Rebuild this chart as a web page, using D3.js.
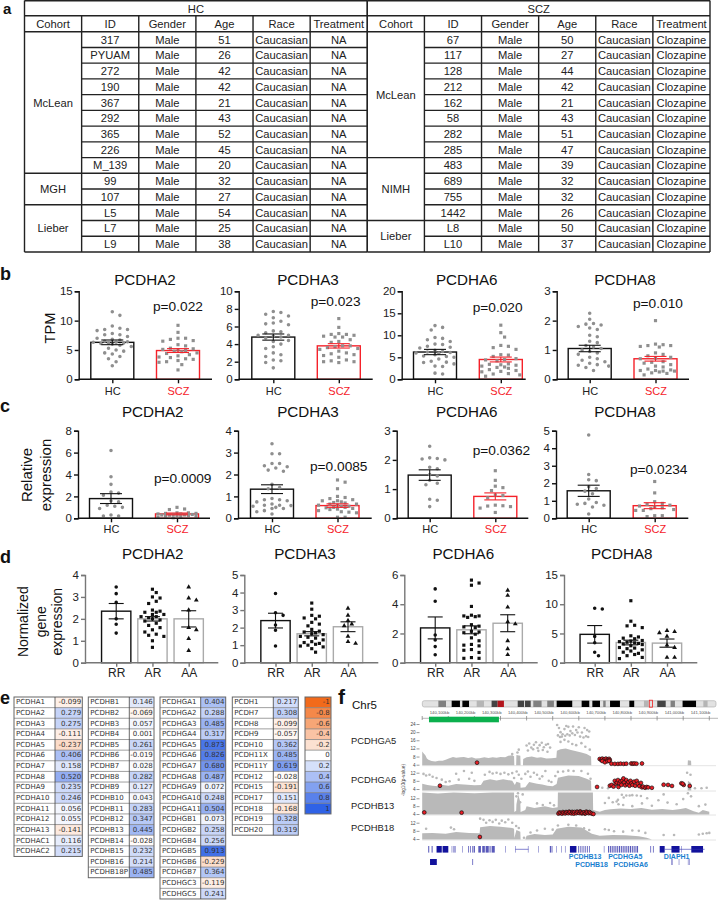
<!DOCTYPE html>
<meta charset="utf-8">
<style>
body { margin: 0; background: #fff; }
svg { display: block; font-family: "Liberation Sans", Arial, sans-serif; }
</style>
<script src="https://d3js.org/d3.v7.min.js"></script>
<body>
<script>
// ---- panel a: cohort tables
var tableCols = ["Cohort", "ID", "Gender", "Age", "Race", "Treatment"];
var hcIds = ["317","PYUAM","272","190","367","292","365","226","M_139","99","107","L5","L7","L9"];
var hcAges = [51,26,42,42,21,43,52,45,20,32,27,54,25,38];
var hcCohorts = [["McLean",9],["MGH",2],["Lieber",3]];
var sczIds = ["67","117","128","212","162","58","282","285","483","689","755","1442","L8","L10"];
var sczAges = [50,27,44,42,21,43,51,47,39,32,32,26,50,37];
var sczCohorts = [["McLean",8],["NIMH",4],["Lieber",2]];

// ---- panel b: TPM
var genes = ["PCDHA2","PCDHA3","PCDHA6","PCDHA8"];
var bTicks = [[0,5,10,15],[0,2,4,6,8,10],[0,5,10,15,20],[0,1,2,3]];
var bPvals = ["p=0.022","p=0.023","p=0.020","p=0.010"];
var bMeans = [[6.3,4.9],[4.8,3.8],[6.2,4.5],[1.05,0.7]];
var bSems = [[0.4,0.33],[0.35,0.25],[0.6,0.55],[0.11,0.08]];
var bHc = [
  [11.5,10.9,9.1,8.7,8.5,8.5,8.3,7.8,7.6,7.6,7.3,7.0,6.8,6.7,6.5,6.4,6.3,6.3,6.2,6.2,6.1,6.0,5.8,5.6,5.3,5.0,4.8,4.5,4.3,3.9,3.5,3.0,2.3],
  [7.7,7.6,7.4,7.2,7.0,6.6,6.4,6.3,6.2,5.5,5.4,5.3,5.0,5.0,4.9,4.8,4.7,4.4,4.3,4.0,3.7,3.5,3.0,2.8,2.6,2.2,2.1,1.9,1.3],
  [12.2,11.8,11.2,9.5,9.3,9.0,8.6,8.0,7.9,7.5,7.3,7.1,6.6,6.3,6.2,6.1,6.0,5.9,5.6,5.3,5.2,5.0,4.6,4.1,3.9,3.8,3.5,3.0,2.9,1.4,1.2],
  [2.25,2.05,1.9,1.88,1.85,1.8,1.75,1.7,1.5,1.45,1.3,1.25,1.15,1.1,1.05,1.0,0.95,0.9,0.85,0.75,0.7,0.65,0.6,0.55,0.5,0.48,0.45,0.4,0.3]
];
var bScz = [
  [9.2,8.0,7.0,7.0,6.8,6.6,6.5,5.9,5.7,5.3,5.2,5.1,5.0,4.9,4.8,4.7,4.5,4.4,4.2,4.0,3.8,3.7,3.5,3.4,3.2,3.0,2.9,2.5,1.6],
  [6.9,5.9,5.2,5.1,5.1,5.0,4.9,4.8,4.8,4.5,4.3,4.2,3.8,3.8,3.7,3.6,3.5,3.4,3.2,3.0,2.9,2.8,2.7,2.5,2.2,2.1,2.0,2.0,1.9],
  [12.3,10.6,9.6,7.7,7.5,7.2,6.8,5.6,5.5,5.2,4.7,4.5,4.4,4.2,3.5,3.4,3.3,3.2,3.0,2.8,2.7,2.5,2.2,2.0,1.8,1.7,1.3,1.2,1.0,0.7],
  [2.0,1.2,1.18,1.15,1.15,1.12,1.1,0.9,0.85,0.8,0.75,0.72,0.7,0.6,0.58,0.55,0.5,0.45,0.42,0.35,0.32,0.3,0.3,0.28,0.28,0.25,0.22,0.2,0.15]
];

// ---- panel c: relative expression
var cTicks = [[0,2,4,6,8],[0,1,2,3,4],[0,1,2,3],[0,1,2,3,4,5]];
var cPvals = ["p=0.0009","p=0.0085","p=0.0362","p=0.0234"];
var cMeans = [[1.8,0.4],[1.33,0.58],[1.48,0.75],[1.57,0.72]];
var cSems = [[0.45,0.08],[0.2,0.08],[0.18,0.12],[0.32,0.17]];
var cHc = [
  [6.2,3.8,3.1,2.4,2.3,2.1,1.6,1.5,1.2,1.1,1.0,0.9,0.3,0.2,0.2],
  [3.4,2.95,2.95,2.5,2.5,2.4,2.35,2.3,2.2,2.15,1.55,1.4,1.35,0.9,0.85,0.85,0.8,0.75,0.65,0.6,0.6,0.58,0.55,0.5,0.45,0.45,0.35,0.3,0.2],
  [2.47,2.07,2.05,2.03,2.0,1.75,1.7,1.5,1.45,1.3,1.2,1.15,0.65,0.62,0.4],
  [4.75,2.5,2.2,2.15,1.8,1.7,1.55,1.4,1.1,0.9,0.85,0.8,0.75,0.65,0.25]
];
var cScz = [
  [1.0,0.85,0.8,0.5,0.5,0.45,0.45,0.4,0.4,0.35,0.35,0.3,0.3,0.28,0.25,0.25,0.2,0.2,0.15,0.1,0.05],
  [1.75,1.65,1.35,1.0,0.95,0.9,0.85,0.8,0.8,0.75,0.72,0.7,0.65,0.65,0.6,0.6,0.55,0.55,0.5,0.5,0.48,0.45,0.42,0.4,0.35,0.3,0.28,0.25,0.05,0.05],
  [1.63,1.3,1.1,1.05,0.95,0.8,0.78,0.7,0.45,0.43,0.42,0.4,0.35,0.2],
  [2.1,1.45,0.95,0.85,0.8,0.75,0.7,0.65,0.6,0.55,0.5,0.45,0.45,0.15,0.15,0.1]
];

// ---- panel d: normalized expression by genotype
var dTicks = [[0,1,2,3,4],[0,1,2,3,4,5],[0,2,4,6],[0,5,10,15]];
var dMeans = [[2.35,2.0,2.0],[2.4,1.65,2.05],[2.38,2.25,2.7],[4.85,3.45,3.35]];
var dSems = [[0.35,0.1,0.37],[0.42,0.12,0.28],[0.75,0.27,0.58],[1.5,0.4,0.7]];
var dRR = [
  [3.45,3.15,2.75,2.0,1.75,1.35],
  [3.95,2.85,2.7,2.15,1.85,0.95],
  [5.05,4.2,1.9,1.55,1.1,0.55],
  [9.3,9.2,4.5,3.4,1.8,1.2]
];
var dAR = [
  [3.35,3.2,3.0,2.95,2.8,2.7,2.4,2.35,2.3,2.3,2.2,2.2,2.1,2.1,2.05,2.0,1.95,1.9,1.8,1.7,1.6,1.5,1.4,1.3,1.25,1.2,1.0,0.7],
  [3.4,3.05,2.7,2.65,2.55,2.5,2.3,2.2,2.1,1.9,1.8,1.75,1.7,1.65,1.6,1.5,1.45,1.4,1.3,1.2,1.15,1.1,1.05,1.0,0.95,0.9,0.8,0.6],
  [5.65,5.45,5.3,3.85,3.25,3.2,3.2,3.15,3.1,2.6,2.5,2.45,2.4,2.15,2.1,2.05,1.95,1.7,1.5,1.25,1.2,1.15,0.9,0.85,0.7,0.35,0.3,0.3],
  [10.6,7.1,6.4,6.3,6.0,4.6,4.4,4.2,4.1,3.8,3.7,3.6,3.5,3.4,3.3,3.2,3.1,2.9,2.6,2.5,2.4,2.2,2.0,1.8,1.6,1.4,1.2,0.9,0.7]
];
var dAA = [
  [3.45,2.95,2.85,2.4,1.6,1.5,1.1,0.55],
  [3.1,2.7,2.4,2.2,2.1,1.5,1.2,1.1],
  [4.95,4.6,3.8,2.8,2.65,1.5,0.95,0.55],
  [5.5,5.3,5.1,4.5,3.0,2.6,0.9,0.9]
];

// ---- panel e: correlation lists
var alphaNames = ["PCDHA1","PCDHA2","PCDHA3","PCDHA4","PCDHA5","PCDHA6","PCDHA7","PCDHA8","PCDHA9","PCDHA10","PCDHA11","PCDHA12","PCDHA13","PCDHAC1","PCDHAC2"];
var alphaVals = [-0.099,0.279,0.275,-0.111,-0.237,0.406,0.158,0.520,0.235,0.246,0.056,0.055,-0.141,0.116,0.215];
var betaNames = ["PCDHB1","PCDHB2","PCDHB3","PCDHB4","PCDHB5","PCDHB6","PCDHB7","PCDHB8","PCDHB9","PCDHB10","PCDHB11","PCDHB12","PCDHB13","PCDHB14","PCDHB15","PCDHB16","PCDHB18P"];
var betaVals = [0.146,-0.069,0.057,0.001,0.261,-0.019,0.028,0.282,0.127,0.043,0.283,0.347,0.445,-0.028,0.232,0.214,0.485];
var gammaNames = ["PCDHGA1","PCDHGA2","PCDHGA3","PCDHGA4","PCDHGA5","PCDHGA6","PCDHGA7","PCDHGA8","PCDHGA9","PCDHGA10","PCDHGA11","PCDHGB1","PCDHGB2","PCDHGB4","PCDHGB5","PCDHGB6","PCDHGB7","PCDHGC3","PCDHGC5"];
var gammaVals = [0.404,0.288,0.485,0.317,0.873,0.826,0.680,0.487,0.072,0.248,0.504,0.073,0.258,0.256,0.913,-0.229,0.364,-0.119,0.241];
var otherNames = ["PCDH1","PCDH7","PCDH8","PCDH9","PCDH10","PCDH11X","PCDH11Y","PCDH12","PCDH15","PCDH17","PCDH18","PCDH19","PCDH20"];
var otherVals = [0.217,0.308,-0.099,-0.057,0.362,0.485,0.619,-0.028,-0.191,0.151,-0.168,0.328,0.319];
var legendVals = [-1,-0.8,-0.6,-0.4,-0.2,0,0.2,0.4,0.6,0.8,1];

// ---- panel f: chromosome bands (Mb) and association tracks (kb, -log10 p)
var chrBands = [[9.9,14.6,"g"],[18.1,23.2,"k"],[24.7,28.8,"k"],[33.5,38,"l"],[42.7,46.4,"d"],[46.4,50.3,"r"],[58.8,62.7,"d"],[63.3,66.8,"d"],[68.4,73.5,"g"],[77,81.1,"g"],[82.8,92.4,"k"],[98.2,102.9,"k"],[104.8,109.5,"k"],[111.5,113,"g"],[115.7,121.8,"k"],[127.6,130.6,"k"],[136.6,139.5,"l"],[144.8,150,"d"],[153,155.7,"g"],[160.4,168.7,"k"],[173.2,175.8,"l"]];
var rulerKb = [140100,140200,140300,140400,140500,140600,140700,140800,140900,141000,141100];
var trackNames = ["PCDHGA5","PCDHGA6","PCDHB13","PCDHB18"];
var trackTicks = [[4,8,12,16,20,24],[4,8,12],[4,8,12],[4,8,12]];
var massA5 = [[140000,10.5],[140006,9.5],[140012,8.6],[140018,7],[140024,6.4],[140036,5.8],[140050,5.6],[140064,6],[140078,6],[140090,6.4],[140104,7.2],[140118,7.8],[140130,7.4],[140146,7.6],[140160,7.8],[140176,7.3],[140190,7.6],[140205,7],[140220,7.2],[140238,7.6],[140254,7.3],[140270,7.6],[140285,7.4],[140300,7.8],[140318,7.6],[140330,8.4],[140345,8.6],[140352,8.2],[140353,4],[140360,4],[140361,8.8],[140376,8.4],[140377,4],[140386,4],[140387,6.8],[140400,7.6],[140420,8],[140440,7.4],[140455,7.6],[140476,7],[140496,7.2],[140514,7.4],[140516,10.8],[140530,11.6],[140550,12],[140570,11.2],[140590,10.6],[140610,10],[140630,9.2],[140647,8],[140648,4],[141017,4],[141018,6.2],[141030,6],[141031,4],[141100,4]];
var massA6 = [[140000,6.6],[140020,6],[140040,5.6],[140060,5.4],[140080,6],[140100,5.6],[140130,6.4],[140160,6.2],[140200,5.8],[140225,6],[140235,8],[140260,8.8],[140285,8.2],[140310,8.8],[140345,8],[140355,6],[140361,7.5],[140376,7],[140377,4.6],[140395,4.8],[140410,7.4],[140440,6.6],[140460,6.2],[140480,5.6],[140500,5.4],[140515,6.4],[140520,9.5],[140560,10.6],[140600,10.4],[140630,9],[140647,8],[140648,4],[141017,4],[141018,8],[141030,7],[141031,4],[141100,4]];
var massB13 = [[140000,15],[140060,14.4],[140120,15],[140200,14.6],[140270,15],[140352,15],[140353,5],[140360,5.6],[140361,9],[140368,14],[140376,10],[140377,5],[140395,6],[140400,8],[140430,7],[140470,8],[140500,7],[140519,7.5],[140520,15],[140654,15],[140655,6],[140680,5.2],[140700,6],[140720,6.4],[140760,6.8],[140800,6.6],[140840,7],[140880,6.2],[140920,6.6],[140960,6],[140990,6.6],[141010,7],[141040,5.4],[141060,4.6],[141075,6],[141100,5.2]];
var massB18 = [[140000,6.8],[140040,7],[140090,6.6],[140130,7.4],[140180,7],[140220,6.8],[140222,9.8],[140260,10.4],[140300,10],[140345,9.4],[140352,9],[140353,4.5],[140361,8.4],[140376,7.5],[140377,4],[140395,4],[140400,5.6],[140430,6.4],[140470,6],[140500,6.2],[140515,9],[140560,10],[140610,9.6],[140650,6.6],[140680,5.6],[140730,6],[140780,5.8],[140830,5.4],[140860,4.6],[140880,4],[141100,4]];
var greyA5 = [[140517,23.5],[140524,22],[140530,20],[140538,19],[140545,21.5],[140552,23],[140560,22.6],[140568,20.5],[140578,22.8],[140590,21],[140600,22.4],[140612,19.8],[140622,22],[140632,21],[140640,20.3],[140520,18.4],[140528,17.6],[140535,17.8],[140548,18.2],[140556,19],[140565,18.4],[140575,19.4],[140585,18.6],[140595,19.8],[140605,17.8],[140618,17.4],[140628,18],[140636,17.6],[140530,15.2],[140545,16.2],[140560,15.4],[140575,14.2],[140590,13.6],[140610,14.6],[140625,12.8],[140642,11.4],[140400,13.4],[140410,14.4],[140418,12.4],[140428,13.8],[140436,15],[140442,12.2],[140450,13.6],[140458,14.8],[140466,12.6],[140474,13.8],[140482,14.2],[140490,12.4],[140405,11],[140425,11.6],[140445,10.8],[140462,11.2],[140480,10.4],[140365,10],[140370,11.4],[140345,9.2]];
var greyA6 = [[140005,11.4],[140015,10.6],[140028,11],[140040,10],[140055,9.4],[140075,8.6],[140090,7.4],[140105,7.8],[140130,11.5],[140140,8.6],[140160,12.8],[140180,9],[140190,12],[140200,8],[140240,11],[140258,12.4],[140270,11.6],[140285,12],[140300,11.4],[140315,12],[140330,11.2],[140345,11.8],[140352,9.4],[140362,12.6],[140370,11],[140380,9],[140395,11.4],[140405,12.6],[140415,10],[140428,12],[140440,11],[140450,9],[140460,10.2],[140472,12.8],[140485,8],[140495,7.4],[140510,10.4],[140520,12.4],[140540,12.6],[140560,13],[140580,12.8],[140610,12.8],[140635,11.5],[140645,9],[140690,4.6],[140712,4.4],[140740,5],[141015,12],[141028,11],[141045,4.4],[141070,4.4],[141090,4.6]];
var greyB13 = [[140361,13],[140367,14.6],[140375,10],[140385,14],[140440,9.4],[140462,8.6],[140490,9.6],[140505,8.4],[140700,9.6],[140715,12.2],[140730,10],[140745,10.4],[140750,11.2],[140765,13.8],[140772,12.4],[140782,13.4],[140795,13.4],[140805,13.6],[140822,13.4],[140838,13.2],[140752,9],[140770,8.6],[140805,8],[140842,9.4],[140862,12],[140880,8.2],[140905,11],[140925,14],[140940,9.8],[140975,9],[141000,11.6],[141018,14.6],[141030,13],[141060,8],[141085,8.8]];
var greyB18 = [[140015,9],[140110,9.6],[140122,8.8],[140222,14],[140235,13.4],[140245,12],[140258,13.2],[140270,12.4],[140282,13.4],[140295,11.6],[140305,13],[140318,12.2],[140330,13.6],[140345,12],[140360,10.4],[140370,9.4],[140390,4.6],[140415,7.2],[140440,8.2],[140470,9],[140500,8.6],[140520,10.6],[140560,11],[140590,10.6],[140620,9.2],[140640,8.4],[140700,8.8],[140715,8.4],[140735,7.8],[140770,7.6],[140805,8.2],[140830,8],[140855,7],[140925,6],[140965,6],[141060,6.2],[141075,6.6],[141090,6.8],[141100,7]];
var redA5 = [[140210,5],[140680,6.8],[140686,6.3],[140690,7],[140697,6.6],[140704,7],[140710,6.5],[140716,6.9],[140719,6.3],[140690,5.8],[140700,5.2],[140710,5.7],[140716,5.9],[140725,4.5],[140738,4.4],[140750,4.4],[140760,4.5],[140772,4.4],[140782,4.5],[140801,4.6],[140807,4.5],[140813,4.6],[140821,4.5],[140842,4.6]];
var redA6 = [[140068,5.6],[140670,5],[140719,5.6],[140726,6],[140733,5.2],[140738,8],[140742,6.6],[140746,7.2],[140750,8.4],[140752,5],[140756,6.8],[140760,7.8],[140763,6],[140767,8.2],[140771,9.2],[140774,7.2],[140778,5.8],[140782,8.4],[140786,6.4],[140790,7.4],[140794,5.6],[140798,8],[140802,6.8],[140806,6],[140812,7.6],[140816,5.6],[140822,8],[140826,6.6],[140832,5.4],[140838,7],[140842,4.8],[140846,5.2],[140854,4.6],[140860,5],[140866,4.8],[140880,4.6],[140925,6.1],[140942,6],[140957,5.5],[140993,6.8],[141002,6],[140998,6.6],[141025,5.5]];
var redB13 = [[140008,4.8],[140151,4.7],[140522,4.2],[140526,4.8],[140530,4.5],[140536,4.2],[140539,5],[140542,4.6],[140548,4.3],[140551,5],[140554,4.8],[140560,4.4],[140563,5.2],[140566,4.9],[140572,4.3],[140575,5.1],[140578,4.7],[140581,4.2],[140584,5],[140590,4.4],[140593,5.2],[140596,4.9],[140602,4.5],[140605,5.3],[140608,5],[140611,4.3],[140614,4.6],[140620,4.9],[140623,4.2],[140626,4.4],[140629,5.2],[140632,4.8],[140638,4.4],[140641,5],[140644,4.6],[140650,4.2],[140656,4]];
var redB18 = [[140221,5]];
var geneRow1 = [[140023,140027],[140036,140040],[140055,140075],[140078,140100],[140113,140115],[140118,140120],[140123,140125],[140127,140129],[140154,140156],[140176,140179],[140183,140186],[140192,140195],[140197,140202],[140215,140225],[140230,140240],[140243,140255],[140258,140262],[140266,140278],[140319,140321],[140357,140359],[140405,140407],[140444,140446],[140489,140494],[140496,140499],[140514,140516],[140533,140535],[140547,140549],[140566,140591],[140597,140600],[140604,140607],[140611,140614],[140618,140621],[140625,140628],[140632,140635],[140639,140642],[140696,140698],[140712,140716],[140719,140723],[140726,140730],[140733,140737],[140740,140744],[140747,140751],[140754,140758],[140761,140765],[140768,140772],[140775,140779],[140782,140786],[140789,140793],[140796,140800],[140803,140807],[140810,140814],[140817,140821],[140823,140827],[140874,140877],[140884,140887],[140910,140929],[140955,140986],[140992,140994],[141031,141076]];
var geneRow2 = [[140030,140056],[140192,140195],[140955,140959],[140983,140985],[141018,141020],[141023,141025]];
var geneLines = [[140357,140407],[140929,141082]];
var geneLabels = [["PCDHB13",140624,0],["PCDHB18",140649,1],["PCDHGA5",140778,0],["PCDHGA6",140799,1],["DIAPH1",140975,0]];

var svg = d3.select("body").append("svg").attr("width", 720).attr("height", 900);

function letter(s, x, y, size) {
  svg.append("text").attr("x", x).attr("y", y).attr("font-size", size).attr("font-weight", "bold").attr("fill", "#111").text(s);
}
letter("a", 3, 13.5, 15); letter("b", 0, 280, 18); letter("c", 0, 412, 18); letter("d", 0, 563, 18); letter("e", 0, 704, 18); letter("f", 338, 704, 21);

// ---- table in panel a
function drawTable(title, ids, ages, cohorts, treatment, x0, x1) {
  var n = ids.length;
  var x = d3.scaleLinear().domain([0, 6]).range([x0, x1]);
  var y = d3.scaleLinear().domain([0, n]).range([31.7, 252]);
  var g = svg.append("g").attr("stroke", "#222").attr("stroke-width", 1.4);
  var line = function(a, b, c, d) { g.append("line").attr("x1", a).attr("y1", b).attr("x2", c).attr("y2", d); };
  var t = svg.append("g").attr("fill", "#222").attr("font-size", 11.2).attr("text-anchor", "middle").attr("dominant-baseline", "central");
  var put = function(s, cx, cy) { t.append("text").attr("x", cx).attr("y", cy).text(s); };

  line(x0, 0.7, x1, 0.7);
  line(x0, 15.7, x1, 15.7);
  line(x0, 31.7, x1, 31.7);
  line(x0, 252, x1, 252);
  line(x0, 0.5, x0, 252);
  line(x1, 0.5, x1, 252);
  d3.range(1, 6).forEach(function(c) { line(x(c), 15.7, x(c), 252); });
  d3.range(1, n).forEach(function(r) { line(x(1), y(r), x1, y(r)); });

  put(title, (x0 + x1) / 2, 8.6);
  tableCols.forEach(function(c, i) { put(c, x(i + 0.5), 24); });

  var start = 0;
  cohorts.forEach(function(c) {
    put(c[0], x(0.5), y(start + c[1] / 2));
    start += c[1];
    if (start < n) line(x0, y(start), x(1), y(start));
  });
  ids.forEach(function(id, r) {
    var cy = y(r + 0.5);
    put(id, x(1.5), cy);
    put("Male", x(2.5), cy);
    put(ages[r], x(3.5), cy);
    put("Caucasian", x(4.5), cy);
    put(treatment, x(5.5), cy);
  });
}
drawTable("HC", hcIds, hcAges, hcCohorts, "NA", 24.5, 367.3);
drawTable("SCZ", sczIds, sczAges, sczCohorts, "Clozapine", 367.3, 710);

// simple swarm so dots spread sideways like the prism plots, kept inside the bar width
function swarm(values, y, step, gap, maxOff) {
  var placed = [];
  values.slice().sort(d3.descending).forEach(function(v) {
    var py = y(v), k = 0, off = 0, g = gap;
    while (placed.some(function(p) { return Math.hypot(p.off - off, p.y - py) < g; })) {
      k++;
      off = (k % 2 ? 1 : -1) * Math.ceil(k / 2) * step;
      if (Math.abs(off) > maxOff) { k = 0; off = 0; g *= 0.75; }
    }
    placed.push({off: off, y: py});
  });
  return placed;
}

function barPanel(o) {
  var g = svg.append("g");
  var x = d3.scalePoint().domain(o.cats).range(o.xr);
  var y = d3.scaleLinear().domain([0, d3.max(o.ticks)]).range([o.bottom, o.top]);
  var gen = d3.symbol();

  g.append("text").attr("x", o.titleX).attr("y", o.titleY).attr("text-anchor", "middle")
    .attr("dominant-baseline", "central").attr("font-size", 15.2).attr("fill", "#111").text(o.title);
  if (o.p) {
    g.append("text").attr("x", o.pX).attr("y", o.pY).attr("dominant-baseline", "central")
      .attr("font-size", 13.7).attr("fill", "#111").text(o.p);
  }

  o.cats.forEach(function(c, i) {
    g.append("rect").attr("x", x(c) - o.barW / 2).attr("y", y(o.means[i]))
      .attr("width", o.barW).attr("height", o.bottom - y(o.means[i]))
      .attr("fill", "#fff").attr("stroke", o.barColors[i]).attr("stroke-width", 1.4);
  });
  o.cats.forEach(function(c, i) {
    swarm(o.points[i], y, o.step, o.gap, o.barW / 2).forEach(function(p) {
      g.append("path").attr("d", gen.type(o.symbols[i]).size(o.symSize)())
        .attr("transform", "translate(" + (x(c) + p.off) + "," + p.y + ")").attr("fill", o.dotColor);
    });
  });
  o.cats.forEach(function(c, i) {
    var e = g.append("g").attr("stroke", o.errColors[i]).attr("stroke-width", 1.1);
    var hi = y(o.means[i] + o.sems[i]), lo = y(o.means[i] - o.sems[i]);
    e.append("line").attr("x1", x(c)).attr("x2", x(c)).attr("y1", hi).attr("y2", lo);
    [hi, lo].forEach(function(v) {
      e.append("line").attr("x1", x(c) - o.cap).attr("x2", x(c) + o.cap).attr("y1", v).attr("y2", v);
    });
  });

  var ya = g.append("g").attr("transform", "translate(" + o.axisX + ",0)")
    .call(d3.axisLeft(y).tickValues(o.ticks).tickSizeOuter(0).tickSize(4).tickPadding(2).tickFormat(d3.format("d")));
  var xa = g.append("g").attr("transform", "translate(0," + o.bottom + ")")
    .call(d3.axisBottom(x).tickSizeOuter(0).tickSize(4).tickPadding(o.xPad));
  xa.select(".domain").remove();
  g.append("line").attr("x1", o.axisX).attr("x2", o.axisEnd).attr("y1", o.bottom).attr("y2", o.bottom)
    .attr("stroke", o.axisColor).attr("stroke-width", 1.4);
  [ya, xa].forEach(function(a) {
    a.selectAll(".domain,line").attr("stroke", o.axisColor).attr("stroke-width", 1.4);
    a.selectAll("text").attr("fill", "#222").attr("font-family", "'Liberation Sans', Arial, sans-serif");
  });
  ya.selectAll("text").attr("font-size", 11.5);
  xa.selectAll("text").attr("font-size", o.xFont).attr("fill", function(d, i) { return o.labelColors[i]; });
}

var bPos = [
  {axisX:78.7, axisEnd:212, xr:[112.3,178], titleX:145, pX:153, pY:306.7},
  {axisX:238.7, axisEnd:372.7, xr:[273.3,338.8], titleX:308, pX:310.7, pY:301.7},
  {axisX:401.7, axisEnd:525.7, xr:[435,500.8], titleX:466.7, pX:472.7, pY:307.7},
  {axisX:556.7, axisEnd:689, xr:[589.7,655.5], titleX:625, pX:633, pY:303}
];
var cPos = [
  {axisX:78, axisEnd:210, xr:[111,177], titleX:152.7, pX:154, pY:478.3},
  {axisX:238, axisEnd:371.7, xr:[272,337.5], titleX:308, pX:310, pY:466},
  {axisX:396.7, axisEnd:528.3, xr:[429.7,495.3], titleX:466.7, pX:472.7, pY:450.7},
  {axisX:556, axisEnd:688.3, xr:[588.7,654.7], titleX:625, pX:630, pY:469.3}
];
var dPos = [
  {axisX:85, axisEnd:218.3, xr:[116.2,188.7], titleX:152.7},
  {axisX:244.3, axisEnd:378.3, xr:[275.5,348], titleX:305},
  {axisX:404.3, axisEnd:537.7, xr:[435.2,507.7], titleX:463.3},
  {axisX:564, axisEnd:697.3, xr:[594.7,667], titleX:621.7}
];

genes.forEach(function(gene, i) {
  var bp = bPos[i];
  barPanel({title:gene, titleX:bp.titleX, titleY:279, p:bPvals[i], pX:bp.pX, pY:bp.pY,
    axisX:bp.axisX, axisEnd:bp.axisEnd, xr:bp.xr, top:291.3, bottom:379.3, ticks:bTicks[i],
    cats:["HC","SCZ"], means:bMeans[i], sems:bSems[i], points:[bHc[i], bScz[i]],
    symbols:[d3.symbolCircle, d3.symbolSquare], symSize:10, dotColor:"#8f8f8f", step:3.8, gap:5.2,
    barW:43, cap:11, barColors:["#111","#f5222a"], errColors:["#111","#f5222a"], labelColors:["#222","#f5222a"],
    axisColor:"#111", xPad:3.5, xFont:11});
  var cp = cPos[i];
  barPanel({title:gene, titleX:cp.titleX, titleY:411, p:cPvals[i], pX:cp.pX, pY:cp.pY,
    axisX:cp.axisX, axisEnd:cp.axisEnd, xr:cp.xr, top:430.7, bottom:518.3, ticks:cTicks[i],
    cats:["HC","SCZ"], means:cMeans[i], sems:cSems[i], points:[cHc[i], cScz[i]],
    symbols:[d3.symbolCircle, d3.symbolSquare], symSize:10, dotColor:"#8f8f8f", step:3.8, gap:5.2,
    barW:43, cap:11, barColors:["#111","#f5222a"], errColors:["#111","#f5222a"], labelColors:["#222","#f5222a"],
    axisColor:"#111", xPad:3, xFont:11});
  var dp = dPos[i];
  barPanel({title:gene, titleX:dp.titleX, titleY:553,
    axisX:dp.axisX, axisEnd:dp.axisEnd, xr:dp.xr, top:575, bottom:662.7, ticks:dTicks[i],
    cats:["RR","AR","AA"], means:dMeans[i], sems:dSems[i], points:[dRR[i], dAR[i], dAA[i]],
    symbols:[d3.symbolCircle, d3.symbolSquare, d3.symbolTriangle], symSize:10, dotColor:"#111", step:3.8, gap:5,
    barW:29.3, cap:7.5, barColors:["#111","#aaa","#aaa"], errColors:["#111","#111","#111"], labelColors:["#222","#222","#222"],
    axisColor:"#777", xPad:2, xFont:12});
});

function yLabel(s, x, y, size) {
  svg.append("text").attr("transform", "translate(" + x + "," + y + ") rotate(-90)").attr("text-anchor", "middle")
    .attr("dominant-baseline", "central").attr("font-size", size).attr("fill", "#111").text(s);
}
yLabel("TPM", 50, 328, 14.6);
yLabel("Relative", 26.7, 475, 15);
yLabel("expression", 45.7, 475, 15);
yLabel("Normalized", 22.7, 621.7, 14);
yLabel("gene", 40.7, 621.7, 14);
yLabel("expression", 57.3, 621.7, 14);

// ---- heat lists in panel e
var heat = d3.scaleLinear().domain([-1, 0, 1]).range(["#f26a1b", "#ffffff", "#2f62e6"]);
var rowY = d3.scaleLinear().domain([0, 1]).range([697, 707.63]);

function heatTable(names, vals, x0, xm, x1) {
  var g = svg.append("g").attr("font-family", "'DejaVu Sans', sans-serif").attr("font-size", 7).attr("fill", "#333");
  var n = vals.length;
  vals.forEach(function(v, i) {
    g.append("rect").attr("x", xm).attr("y", rowY(i)).attr("width", x1 - xm).attr("height", rowY(1) - rowY(0)).attr("fill", heat(v));
    if (i) g.append("line").attr("x1", x0).attr("x2", x1).attr("y1", rowY(i)).attr("y2", rowY(i)).attr("stroke", "#777").attr("stroke-width", 0.7);
    if (names) {
      g.append("text").attr("x", x0 + 2).attr("y", rowY(i + 0.5)).attr("dominant-baseline", "central").text(names[i]);
      g.append("text").attr("x", x1 - 1.2).attr("y", rowY(i + 0.5)).attr("text-anchor", "end").attr("dominant-baseline", "central").text(v.toFixed(3));
    } else {
      g.append("text").attr("x", x1 - 1.2).attr("y", rowY(i + 0.5)).attr("text-anchor", "end").attr("dominant-baseline", "central").text(String(v));
    }
  });
  g.append("rect").attr("x", x0).attr("y", rowY(0)).attr("width", x1 - x0).attr("height", rowY(n) - rowY(0))
    .attr("fill", "none").attr("stroke", "#666").attr("stroke-width", 1);
  if (names) g.append("line").attr("x1", xm).attr("x2", xm).attr("y1", rowY(0)).attr("y2", rowY(n)).attr("stroke", "#444").attr("stroke-width", 0.8);
}
heatTable(alphaNames, alphaVals, 14, 55, 82.3);
heatTable(betaNames, betaVals, 88.3, 129.3, 154);
heatTable(gammaNames, gammaVals, 160, 200.7, 225.7);
heatTable(otherNames, otherVals, 232.3, 273.3, 298.3);
heatTable(null, legendVals, 305, 305, 331);

// ---- panel f
var chrX = d3.scaleLinear().domain([0, 181]).range([422.3, 716]);
var shade = {k:"#000", d:"#444", g:"#808080", l:"#b5b5b5", r:"#b3141c"};
svg.append("rect").attr("x", chrX(0)).attr("y", 700.7).attr("width", chrX(181) - chrX(0)).attr("height", 6.3)
  .attr("rx", 2).attr("fill", "#e2e2e2").attr("stroke", "#aaa").attr("stroke-width", 0.6);
svg.selectAll("rect.band").data(chrBands).enter().append("rect").attr("class", "band")
  .attr("x", function(d) { return chrX(d[0]); }).attr("y", 700.7)
  .attr("width", function(d) { return chrX(d[1]) - chrX(d[0]); }).attr("height", 6.3)
  .attr("fill", function(d) { return shade[d[2]]; });
svg.append("rect").attr("x", chrX(139.9)).attr("y", 700.2).attr("width", chrX(141.9) - chrX(139.9)).attr("height", 7)
  .attr("fill", "none").attr("stroke", "#f02020").attr("stroke-width", 0.8);
svg.append("text").attr("x", 352).attr("y", 705).attr("font-size", 11.5).attr("dominant-baseline", "central").attr("fill", "#111").text("Chr5");

var kb = d3.scaleLinear().domain([140100, 141100]).range([448.3, 709.3]);

svg.append("line").attr("x1", kb(140000)).attr("x2", 718).attr("y1", 718.3).attr("y2", 718.3).attr("stroke", "#999").attr("stroke-width", 0.7);
svg.append("line").attr("x1", kb(140000)).attr("x2", kb(140000)).attr("y1", 716).attr("y2", 720).attr("stroke", "#777").attr("stroke-width", 0.7);
rulerKb.forEach(function(k) {
  svg.append("line").attr("x1", kb(k)).attr("x2", kb(k)).attr("y1", 716).attr("y2", 720.5).attr("stroke", "#777").attr("stroke-width", 0.7);
  svg.append("text").attr("x", kb(k) + 1).attr("y", 712.4).attr("text-anchor", "end").attr("dominant-baseline", "central")
    .attr("font-size", 4.2).attr("fill", "#555").text(d3.format(",")(k) + "kb");
});
svg.append("rect").attr("x", kb(140026)).attr("y", 716.7).attr("width", kb(140294) - kb(140026)).attr("height", 5.6).attr("fill", "#0bb04e");

var tracks = [
  {bottom:764.7, top:724, maxV:24, labelY:740, mass:massA5, grey:greyA5, red:redA5, floor:765.7},
  {bottom:789, top:772.7, maxV:12, labelY:779, mass:massA6, grey:greyA6, red:redA6, floor:791},
  {bottom:814, top:798.3, maxV:12, labelY:805, mass:massB13, grey:greyB13, red:redB13, floor:815},
  {bottom:839, top:822.7, maxV:12, labelY:827.7, mass:massB18, grey:greyB18, red:redB18, floor:840}
];
tracks.forEach(function(t, i) {
  var g = svg.append("g");
  var y = d3.scaleLinear().domain([4, t.maxV]).range([t.bottom, t.top]);
  g.append("line").attr("x1", kb(140000)).attr("x2", 716).attr("y1", t.floor).attr("y2", t.floor).attr("stroke", "#e4e4e4").attr("stroke-width", 1);
  var area = d3.area().x(function(d) { return kb(d[0]); })
    .y0(t.floor - 0.4).y1(function(d) { return d[1] <= 4 ? t.floor - 0.4 : y(d[1]); });
  g.append("path").attr("d", area(t.mass)).attr("fill", "#b9b9b9");
  g.selectAll("circle.grey").data(t.grey).enter().append("circle").attr("class", "grey")
    .attr("cx", function(d) { return kb(d[0]); }).attr("cy", function(d) { return y(d[1]); })
    .attr("r", 1.3).attr("fill", "#b9b9b9");
  g.selectAll("circle.red").data(t.red).enter().append("circle").attr("class", "red")
    .attr("cx", function(d) { return kb(d[0]); }).attr("cy", function(d) { return y(d[1]); })
    .attr("r", 1.9).attr("fill", "#ea1c24").attr("stroke", "#111").attr("stroke-width", 0.7);
  var ax = g.append("g").attr("transform", "translate(419.5,0)")
    .call(d3.axisLeft(y).tickValues(trackTicks[i]).tickSize(3).tickPadding(1).tickFormat(d3.format("d")));
  ax.select(".domain").remove();
  ax.selectAll("line").attr("stroke", "#555").attr("stroke-width", 0.6);
  ax.selectAll("text").attr("font-size", 4.6).attr("fill", "#444").attr("font-family", "'Liberation Sans', Arial, sans-serif");
  svg.append("text").attr("x", 351).attr("y", t.labelY).attr("dominant-baseline", "central")
    .attr("font-size", 9.4).attr("fill", "#222").text(trackNames[i]);
});
svg.append("text").attr("transform", "translate(403,780) rotate(-90)").attr("text-anchor", "middle")
  .attr("dominant-baseline", "central").attr("font-size", 4.8).attr("fill", "#444").text("-log10(p-value)");

function geneBlocks(list, y0, h) {
  svg.append("g").selectAll("rect").data(list).enter().append("rect")
    .attr("x", function(d) { return kb(d[0]); }).attr("y", y0)
    .attr("width", function(d) { return kb(d[1]) - kb(d[0]); }).attr("height", h)
    .attr("fill", "#12129c").attr("opacity", function(d) { return d[1] - d[0] > 15 ? 1 : 0.7; });
}
geneBlocks(geneRow1, 846, 6.6);
geneBlocks(geneRow2, 859, 6);
geneLines.forEach(function(d) {
  svg.append("line").attr("x1", kb(d[0])).attr("x2", kb(d[1])).attr("y1", 849.3).attr("y2", 849.3).attr("stroke", "#3030b0").attr("stroke-width", 0.6);
});
geneLabels.forEach(function(d) {
  svg.append("text").attr("x", kb(d[1])).attr("y", d[2] ? 864 : 856.7).attr("text-anchor", "middle")
    .attr("dominant-baseline", "central").attr("font-size", 7).attr("font-weight", "bold").attr("fill", "#1a7fd0").text(d[0]);
});
</script>
</body>
